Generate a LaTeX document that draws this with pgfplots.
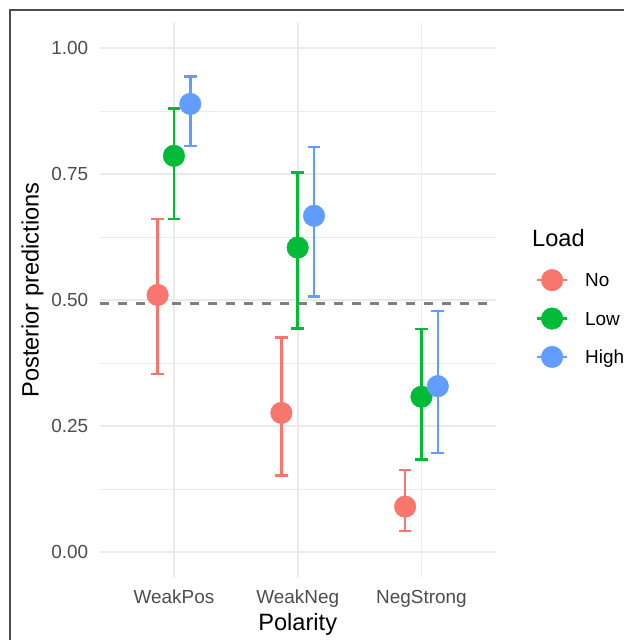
\documentclass[border=0pt]{standalone}
\usepackage{fontspec}
\setmainfont{Liberation Sans}
\usepackage{pgfplots}
\usepackage{pgfplotstable}
\pgfplotsset{compat=1.18}
\definecolor{cNo}{HTML}{F8766D}
\definecolor{cLow}{HTML}{00BA38}
\definecolor{cHigh}{HTML}{619CFF}
\definecolor{gridc}{HTML}{EBEBEB}
\definecolor{tickc}{HTML}{4D4D4D}
\definecolor{framec}{HTML}{4D4D4D}
\definecolor{refc}{HTML}{7F7F7F}

\pgfplotstableread{
x y ep em
0.868 0.510 0.151 0.157
1.868 0.276 0.150 0.124
2.868 0.090 0.073 0.048
}\tNo
\pgfplotstableread{
x y ep em
1 0.786 0.094 0.125
2 0.604 0.149 0.161
3 0.308 0.134 0.124
}\tLow
\pgfplotstableread{
x y ep em
1.132 0.889 0.054 0.083
2.132 0.667 0.137 0.160
3.132 0.329 0.149 0.133
}\tHigh

\pgfplotsset{
  pts/.style={only marks, mark=*, mark size=10.8bp, color=#1,
    mark options={fill=#1, draw=none},
    error bars/.cd, y dir=both, y explicit,
    error bar style={line width=2.5bp, color=#1, solid},
    error mark options={rotate=90, mark size=6.3bp, line width=2.5bp, color=#1},
    /pgfplots/legend image code/.code={\draw[line width=2.5bp, #1] (0bp,0bp) -- (30.3bp,0bp); \fill[#1] (15.15bp,0bp) circle (10.8bp);}}
}

\begin{document}
\begin{tikzpicture}
\begin{axis}[
  at={(99.7bp,62.8bp)}, anchor=south west,
  scale only axis, width=396bp, height=554.4bp,
  xmin=0.4, xmax=3.6, ymin=-0.05, ymax=1.05,
  xtick={1,2,3}, xticklabels={WeakPos,WeakNeg,NegStrong},
  ytick={0,0.25,0.5,0.75,1}, yticklabels={0.00,0.25,0.50,0.75,1.00},
  minor ytick={0.125,0.375,0.625,0.875},
  grid=both,
  major grid style={color=gridc, line width=1.8bp},
  minor grid style={color=gridc, line width=0.9bp},
  axis line style={draw=none},
  major tick length=0pt, minor tick length=0pt,
  tick style={draw=none},
  tick label style={font=\fontsize{19}{22}\selectfont, color=tickc, inner sep=0pt},
  xticklabel style={anchor=base, yshift=-25.8bp},
  yticklabel style={anchor=east, xshift=-11.4bp, text height=13.6bp, text depth=0bp},
  legend style={at={(1.101,0.5556)}, anchor=north west, draw=none, fill=none,
    inner sep=0pt, outer sep=0pt, row sep=16.4bp,
    font=\fontsize{19}{22}\selectfont,
    nodes={inner sep=0pt, anchor=west, text height=13.6bp, text depth=0bp},
    /tikz/every odd column/.style={column sep=16.7bp}},
  legend cell align=left,
  clip=false,
]
\addplot[refc, line width=2.2bp, dash pattern=on 9bp off 9bp, forget plot] coordinates {(0.4,0.493) (3.6,0.493)};
\addplot[pts=cNo] table[x=x, y=y, y error plus=ep, y error minus=em] {\tNo};
\addlegendentry{No}
\addplot[pts=cLow] table[x=x, y=y, y error plus=ep, y error minus=em] {\tLow};
\addlegendentry{Low}
\addplot[pts=cHigh] table[x=x, y=y, y error plus=ep, y error minus=em] {\tHigh};
\addlegendentry{High}
\end{axis}
\node[anchor=base, inner sep=0pt, font=\fontsize{23.7}{28}\selectfont] at (297.7bp,10bp) {Polarity};
\node[anchor=base, rotate=90, inner sep=0pt, font=\fontsize{23.7}{28}\selectfont] at (38.7bp,350bp) {Posterior predictions};
\node[anchor=base west, inner sep=0pt, font=\fontsize{23.7}{28}\selectfont] at (532bp,393.5bp) {Load};
\draw[framec, line width=1.5bp] (10bp,-5bp) -- (10bp,630bp) -- (630bp,630bp);
\pgfresetboundingbox
\path[use as bounding box] (0bp,0bp) rectangle (624bp,640bp);
\end{tikzpicture}
\end{document}
